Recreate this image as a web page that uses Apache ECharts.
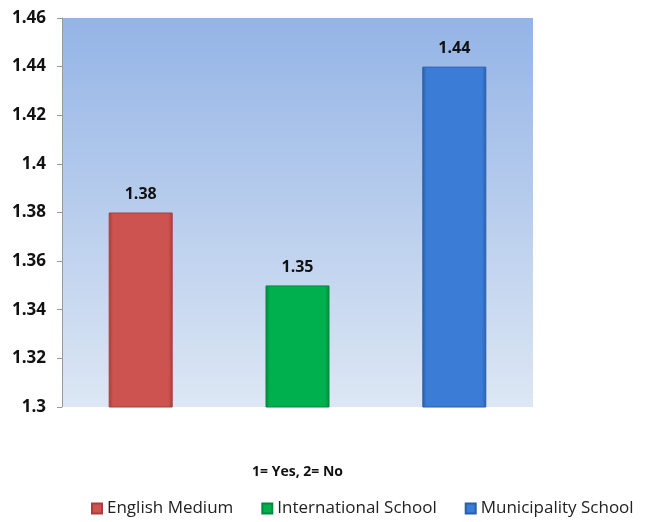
<!DOCTYPE html>
<html><head><meta charset="utf-8">
<script src="https://cdn.jsdelivr.net/npm/echarts@6/dist/echarts.min.js"></script>
<style>html,body{margin:0;padding:0;background:#fff}#c{width:646px;height:522px}</style>
</head><body><div id="c"></div>
<script>
const categories = ['1= Yes, 2= No'];
const seriesNames = ['English Medium', 'International School', 'Municipality School'];
const values = [1.38, 1.35, 1.44];
const colors = ['#CD5350', '#00B04F', '#3B7DD6'];
const darkColors = ['#A83E3B', '#008A3C', '#2A5FA8'];
const yTicks = [1.3, 1.32, 1.34, 1.36, 1.38, 1.4, 1.42, 1.44, 1.46];

const chart = echarts.init(document.getElementById('c'));
const series = seriesNames.map((n, i) => ({
  name: n,
  type: 'bar',
  data: [values[i]],
  barWidth: 64,
  barGap: '145%',
  itemStyle: {
    color: new echarts.graphic.LinearGradient(0, 0, 1, 0, [
      {offset: 0, color: darkColors[i]},
      {offset: 0.07, color: colors[i]},
      {offset: 0.93, color: colors[i]},
      {offset: 1, color: darkColors[i]}
    ]),
    borderColor: darkColors[i],
    borderWidth: 1
  },
  label: {
    show: true, position: 'top', distance: 10,
    fontFamily: 'Open Sans', fontWeight: 'bold', fontSize: 16, color: '#111',
    formatter: p => String(p.value)
  }
}));
chart.setOption({
  animation: false,
  color: colors,
  grid: {
    left: 62, right: 113, top: 18, bottom: 115, show: true, borderWidth: 0,
    backgroundColor: new echarts.graphic.LinearGradient(0, 0, 0, 1, [
      {offset: 0, color: '#94B4E6'},
      {offset: 1, color: '#DDE7F4'}
    ])
  },
  xAxis: {
    type: 'category', data: categories,
    axisLine: {show: false}, axisTick: {show: false}, axisLabel: {show: false},
    name: categories[0], nameLocation: 'middle', nameGap: 58,
    nameTextStyle: {fontFamily: 'Open Sans', fontWeight: 'bold', fontSize: 14, color: '#111'}
  },
  yAxis: {
    type: 'value', min: 1.3, max: 1.46, interval: 0.02,
    axisLine: {show: true, lineStyle: {color: '#999'}},
    axisTick: {show: true, length: 5, lineStyle: {color: '#999'}},
    splitLine: {show: false},
    axisLabel: {
      fontFamily: 'Open Sans', fontWeight: 'bold', fontSize: 17, color: '#111', margin: 16,
      formatter: v => { const t = yTicks.find(x => Math.abs(x - v) < 1e-9); return String(t !== undefined ? t : v); }
    }
  },
  legend: {
    bottom: 0, left: 86, itemWidth: 10, itemHeight: 10, itemGap: 28,
    icon: 'rect',
    textStyle: {fontFamily: 'Open Sans', fontSize: 17, color: '#222'},
    data: seriesNames
  },
  series: series
});
</script></body></html>
